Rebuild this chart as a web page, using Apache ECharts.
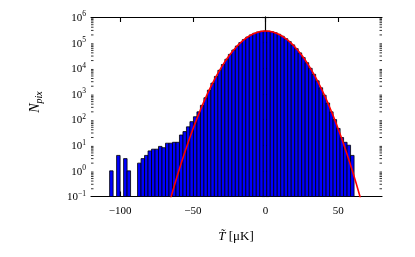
<!DOCTYPE html>
<html><head><meta charset="utf-8">
<script src="https://cdn.jsdelivr.net/npm/echarts@6/dist/echarts.min.js"></script>
<style>html,body{margin:0;padding:0;background:#fff}#c{width:415px;height:257px}</style>
</head><body><div id="c"></div>
<script>
// Histogram: bin edges start and width (in μK), counts per bin
const binStart = -107.2;
const binWidth = 2.4;
const counts = [
  1, 0, 4, 0, 3, 1, 0, 0, 2, 3,
  4, 6, 7, 7, 9, 8, 12, 12, 13, 13,
  25, 34, 52, 83, 129, 200, 360, 710, 1400, 2640,
  4810, 8380, 14030, 22540, 34830, 51640, 73450, 100200, 131500, 165600,
  200400, 232300, 259100, 277300, 285100, 281200, 266100, 242100, 211400, 177300,
  142700, 110300, 81830, 58300, 39870, 26180, 16510, 10000, 5810, 3240,
  1740, 893, 442, 200, 100, 45, 20, 13, 10, 4
];
// Red fitted curve
const curveX = [-70, -65, -60, -55, -50, -45, -40, -35, -30, -25, -20, -15, -10, -5, 0,
                5, 10, 15, 20, 25, 30, 35, 40, 45, 50, 55, 60, 65, 70];
const curveY = [0.0087, 0.094, 0.86, 6.5, 42, 223, 1000, 3770, 11900, 31300, 69300, 129000, 200000, 261000, 285000,
                261000, 200000, 129000, 69300, 31300, 11900, 3770, 1000, 223, 42, 6.5, 0.86, 0.094, 0.0087];
const xTicks = [-100, -50, 0, 50];
const xMin = -120, xMax = 80;
const yMin = 0.1, yMax = 1e6;

const serif = 'Liberation Serif';
const barData = [];
counts.forEach((c, i) => {
  if (c > 0) barData.push([binStart + i * binWidth, binStart + (i + 1) * binWidth, c]);
});
const curveData = curveX.map((x, i) => [x, curveY[i]]);
const minorVals = [];
for (let d = -1; d < 6; d++) for (let k = 2; k <= 9; k++) minorVals.push(k * Math.pow(10, d));

const fmtX = v => (v < 0 ? '\u2212' + (-v) : '' + v);
const fmtY = v => { const e = Math.round(Math.log10(v)); return '{b|10}{s|' + (e < 0 ? '\u2212' + (-e) : e) + '}'; };

const chart = echarts.init(document.getElementById('c'), null, {renderer: 'canvas'});
const lineStyle = {color: '#000', width: 1.1};
chart.setOption({
  animation: false,
  backgroundColor: '#fff',
  grid: {left: 91, top: 17, right: 33, bottom: 60.5, containLabel: false},
  xAxis: [
    {type: 'value', min: xMin, max: xMax, position: 'bottom',
     axisLine: {show: true, lineStyle}, splitLine: {show: false},
     axisTick: {show: true, inside: true, length: 5, customValues: xTicks, lineStyle},
     axisLabel: {show: true, customValues: xTicks, formatter: fmtX, margin: 9,
                 fontFamily: serif, fontSize: 11, color: '#000'}},
    {type: 'value', min: xMin, max: xMax, position: 'top',
     axisLine: {show: true, lineStyle}, splitLine: {show: false},
     axisTick: {show: true, inside: true, length: 5, customValues: xTicks, lineStyle},
     axisLabel: {show: false}}
  ],
  yAxis: [
    {type: 'log', logBase: 10, min: yMin, max: yMax, position: 'left', splitNumber: 7,
     axisLine: {show: true, lineStyle}, splitLine: {show: false},
     axisTick: {show: true, inside: true, length: 4, lineStyle},
     axisLabel: {show: true, formatter: fmtY, margin: 5,
       rich: {b: {fontFamily: serif, fontSize: 11, color: '#000', verticalAlign: 'bottom'},
              s: {fontFamily: serif, fontSize: 7.5, color: '#000', verticalAlign: 'top', padding: [0, 0, 5, 0]}}}},
    {type: 'log', logBase: 10, min: yMin, max: yMax, position: 'right', splitNumber: 7,
     axisLine: {show: true, lineStyle}, splitLine: {show: false},
     axisTick: {show: true, inside: true, length: 4, lineStyle},
     axisLabel: {show: false}}
  ],
  graphic: [
    {type: 'text', x: 236, y: 237, z: 10,
     style: {text: '{t|T\u0303}{r| [\u03bcK]}', align: 'center', verticalAlign: 'middle',
       rich: {t: {fontFamily: serif, fontStyle: 'italic', fontSize: 13, fill: '#000'},
              r: {fontFamily: serif, fontSize: 13, fill: '#000'}}}},
    {type: 'text', x: 36, y: 102, rotation: Math.PI / 2, z: 10,
     style: {text: '{n|N}{p|pix}', align: 'center', verticalAlign: 'middle',
       rich: {n: {fontFamily: serif, fontStyle: 'italic', fontSize: 14, fill: '#000', verticalAlign: 'top'},
              p: {fontFamily: serif, fontStyle: 'italic', fontSize: 10, fill: '#000', verticalAlign: 'bottom', padding: [6, 0, 0, 0]}}}}
  ],
  series: [
    {type: 'custom', xAxisIndex: 0, yAxisIndex: 0, clip: true, silent: true,
     data: barData, encode: {x: [0, 1], y: 2},
     renderItem: (params, api) => {
       const pTop = api.coord([api.value(0), api.value(2)]);
       const pBot = api.coord([api.value(1), yMin]);
       return {type: 'rect',
         shape: {x: pTop[0], y: pTop[1], width: pBot[0] - pTop[0], height: pBot[1] - pTop[1]},
         style: {fill: '#0000ff', stroke: '#000', lineWidth: 0.8}};
     }},
    {type: 'line', xAxisIndex: 0, yAxisIndex: 0, data: curveData, smooth: true, showSymbol: false,
     clip: true, silent: true, lineStyle: {color: '#ff0000', width: 1.6}, z: 5},
    {type: 'custom', xAxisIndex: 0, yAxisIndex: 0, silent: true, z: 6,
     data: minorVals.map(v => [xMin, v]), encode: {x: 0, y: 1},
     renderItem: (params, api) => {
       const v = api.value(1);
       const p0 = api.coord([xMin, v]);
       const p1 = api.coord([xMax, v]);
       const ls = {stroke: '#000', lineWidth: 0.8};
       return {type: 'group', children: [
         {type: 'line', shape: {x1: p0[0], y1: p0[1], x2: p0[0] + 2.5, y2: p0[1]}, style: ls},
         {type: 'line', shape: {x1: p1[0] - 2.5, y1: p1[1], x2: p1[0], y2: p1[1]}, style: ls}
       ]};
     }}
  ]
});
</script>
</body></html>
